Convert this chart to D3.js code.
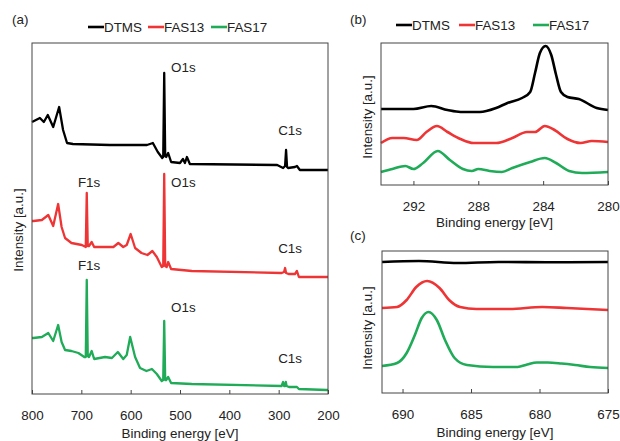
<!DOCTYPE html>
<html>
<head>
<meta charset="utf-8">
<script src="https://cdn.jsdelivr.net/npm/d3@7"></script>
<style>
  body { margin: 0; background: #fff; }
  svg text { font-family: "Liberation Sans", Arial, sans-serif; fill: #222; }
</style>
</head>
<body>
<div id="chart"></div>
<script>
// series names and colours
var seriesNames = ["DTMS", "FAS13", "FAS17"];
var seriesColors = ["#000000", "#ee3434", "#1fab57"];

// panel (a) survey spectra: [binding energy eV, intensity a.u.] (stacked)
var surveyDTMS = [[800,272],[784,276],[776,272],[768,279],[757,267],[745,287],[737,264],[729,251],[717,250],[642,249],
  [567,249],[555,251],[545,242],[536,236],[534,237],[532,321],[530,238],[528,237],[524,241],[518,232],[500,231],[494,235],
  [490,231],[486,237],[480,230],[303,229],[291,226],[287,228],[285,244],[283,227],[281,226],[267,227],[263,228],[257,224],[200,224]];
var surveyFAS13 = [[800,173],[797,173],[780,174],[767,179],[757,168],[747,190],[740,167],[733,156],[720,151],[699,149],
  [691,147],[689,201],[687,148],[684.5,148],[679,152],[674,147],[652,147],[635,147],[625,151],[615,147],[608,149],[600,160],
  [591,146],[578,141],[566,139],[556,143],[547,137],[537,127],[534,128],[532,220],[530,128],[527,127],[524,132],[518,125],
  [476,123],[294,121],[289,122],[287,126],[285,121],[280,120],[267,120],[263,123],[259,117],[203,117],[200,117]];
var surveyFAS17 = [[800,56],[797,56],[780,57],[767,61],[757,53],[747,69],[740,52],[733,44],[720,43],[706,41],[694,37],
  [691,37],[689,114],[687,38],[684.5,37],[679,43],[674,35],[652,37],[638,36],[626,42],[615,35],[608,39],[601,57],[591,37],
  [581,26],[568,23],[557,25],[547,20],[537,13],[534,14],[532,73],[530,14],[528,14],[524,17],[518,11],[476,10],[294,8],
  [291,12],[289,8],[287,8],[285.5,12],[284,8],[279,7],[263,7],[259,5],[203,4],[200,4]];

// panel (b) C1s
var c1sDTMS = [[294,76],[292,76],[290.9,79],[289.9,75],[289.1,73],[287.9,73],[286.9,77],[286.2,82],[285.3,87],[284.8,93],
  [284.5,112],[284.2,132],[283.85,139],[283.5,130],[283.2,110],[282.9,93],[282.5,88],[281.8,86],[280.7,77],[280,75]];
var c1sFAS13 = [[294,42],[293.3,47],[292.6,47],[291.8,45],[291.2,53],[290.55,59],[289.9,53],[289.1,46],[288.3,42],
  [286.9,42],[285.9,47],[285,53],[284.5,53],[283.9,59],[283.3,55],[282.5,46],[281.7,42],[281,44],[280,43]];
var c1sFAS17 = [[294,13],[293.3,16],[292.5,19],[292,16],[291.4,22],[290.5,34],[289.75,25],[288.95,16],[288.4,14],
  [288,16],[287.3,14],[286.55,13],[285.9,17],[284.8,23],[283.9,27],[283.2,22],[282.4,14],[281.6,12],[280,13]];

// panel (c) F1s
var f1sDTMS = [[691.5,131],[688.8,132],[686,130],[683,131],[679,130.7],[675,131]];
var f1sFAS13 = [[691.5,85],[690.4,86],[689.7,93],[689,106],[688.2,112],[687.3,105],[686.6,93],[685.8,86],[684.6,84],
  [682.2,84],[679.8,86],[678,85],[675,83]];
var f1sFAS17 = [[691.5,27],[690.4,30],[689.7,40],[689.1,58],[688.6,75],[688.1,81],[687.5,73],[686.9,53],[686.2,35],
  [685.3,28],[683.4,26],[681.6,26],[680.9,28.5],[680.2,30.5],[679.4,30.5],[678.4,29.5],[677.4,28],[676.3,26],[675,25]];

// tick labels
var ticksA = [800, 700, 600, 500, 400, 300, 200];
var ticksB = [292, 288, 284, 280];
var ticksC = [690, 685, 680, 675];

// peak labels in panel (a): [text, eV, intensity]
var peakLabels = [["O1s",518,327],["C1s",301,264],["F1s",707,212],["O1s",518,212],["C1s",301,146],
  ["F1s",707,129],["O1s",518,87],["C1s",301,36]];

var svg = d3.select("#chart").append("svg")
  .attr("width", 620)
  .attr("height", 441);

function drawPanel(p) {
  var x = d3.scaleLinear().domain(p.xDomain).range([p.left, p.right]);
  var y = d3.scaleLinear().domain(p.yDomain).range([p.bottom, p.top]);

  var line = d3.line()
    .x(function(d) { return x(d[0]); })
    .y(function(d) { return y(d[1]); })
    .curve(p.curve);

  p.series.forEach(function(s, i) {
    svg.append("path")
      .datum(s)
      .attr("d", line)
      .attr("fill", "none")
      .attr("stroke", seriesColors[i])
      .attr("stroke-width", p.lw)
      .attr("stroke-linejoin", "round");
  });

  var ax = svg.append("g")
    .attr("transform", "translate(0," + p.bottom + ")")
    .call(d3.axisBottom(x).tickValues(p.ticks).tickSizeInner(-4).tickSizeOuter(0).tickPadding(16));
  ax.select(".domain").remove();
  ax.selectAll("line").attr("stroke", "#444");
  ax.selectAll("text").style("font-size", "13.4px").attr("fill", "#222");

  svg.append("rect")
    .attr("x", p.left).attr("y", p.top)
    .attr("width", p.right - p.left).attr("height", p.bottom - p.top)
    .attr("fill", "none").attr("stroke", "#444").attr("stroke-width", 1);

  svg.append("text")
    .attr("x", (p.left + p.right) / 2)
    .attr("y", p.xLabelY)
    .attr("dy", "0.35em")
    .style("text-anchor", "middle")
    .style("font-size", "13.4px")
    .text("Binding energy [eV]");

  svg.append("text")
    .attr("transform", "translate(" + p.yLabelX + "," + p.yLabelY + ")rotate(-90)")
    .attr("dy", "0.35em")
    .style("text-anchor", "middle")
    .style("font-size", "13.4px")
    .text("Intensity [a.u.]");

  svg.append("text")
    .attr("x", p.tagX).attr("y", p.tagY)
    .attr("dy", "0.35em")
    .style("font-size", "13.4px")
    .text(p.tag);

  return {x: x, y: y};
}

function drawLegend(lx, ly, gaps) {
  var pos = lx;
  seriesNames.forEach(function(n, i) {
    svg.append("line")
      .attr("x1", pos).attr("x2", pos + 16)
      .attr("y1", ly).attr("y2", ly)
      .attr("stroke", seriesColors[i]).attr("stroke-width", 2.6);
    svg.append("text")
      .attr("x", pos + 16).attr("y", ly)
      .attr("dy", "0.35em")
      .style("font-size", "13.4px")
      .text(n);
    pos += gaps[i];
  });
}

var pa = drawPanel({
  xDomain: [800, 200], yDomain: [0, 351], left: 32, right: 328, top: 43, bottom: 394, lw: 2.3,
  series: [surveyDTMS, surveyFAS13, surveyFAS17], curve: d3.curveLinear, ticks: ticksA,
  xLabelY: 433, yLabelX: 18, yLabelY: 230, tag: "(a)", tagX: 12, tagY: 19
});

svg.selectAll(".peak")
  .data(peakLabels)
  .enter().append("text")
  .attr("class", "peak")
  .attr("x", function(d) { return pa.x(d[1]); })
  .attr("y", function(d) { return pa.y(d[2]); })
  .attr("dy", "0.35em")
  .style("font-size", "13.4px")
  .text(function(d) { return d[0]; });

drawPanel({
  xDomain: [294, 280], yDomain: [0, 142], left: 381, right: 608, top: 43, bottom: 185, lw: 2.6,
  series: [c1sDTMS, c1sFAS13, c1sFAS17], curve: d3.curveMonotoneX, ticks: ticksB,
  xLabelY: 222, yLabelX: 367, yLabelY: 117, tag: "(b)", tagX: 350, tagY: 19
});

drawPanel({
  xDomain: [691.5, 675], yDomain: [0, 142], left: 382, right: 608, top: 251, bottom: 393, lw: 2.6,
  series: [f1sDTMS, f1sFAS13, f1sFAS17], curve: d3.curveMonotoneX, ticks: ticksC,
  xLabelY: 432, yLabelX: 367, yLabelY: 328, tag: "(c)", tagX: 350, tagY: 235
});

drawLegend(88, 27, [60, 63, 0]);
drawLegend(396, 25, [63, 74, 0]);
</script>
</body>
</html>
